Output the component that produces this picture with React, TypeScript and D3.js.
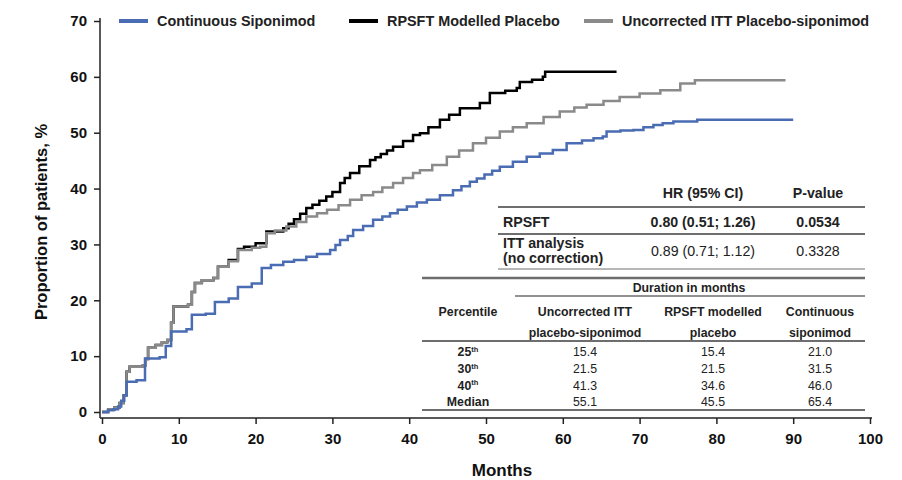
import React, { useEffect, useRef } from "react";
import * as d3 from "d3";

const width = 902;
const height = 480;

// cumulative proportion of patients (%) by month
const continuousSiponimod: [number, number][] = [
  [0, 0], [0.8, 0.3], [1.5, 0.5], [2.1, 1.0], [2.5, 2.0], [2.9, 3.0], [3.2, 5.4], [4.5, 5.7],
  [5.6, 9.6], [7.5, 9.8], [8.3, 11.8], [9.0, 14.4], [11.0, 14.8], [11.7, 17.4], [13.5, 17.6],
  [14.7, 19.7], [16.5, 20.3], [17.7, 22.4], [19.5, 23.0], [20.8, 25.8], [22.0, 26.3],
  [23.6, 26.9], [25.0, 27.2], [26.6, 27.8], [28.0, 28.3], [29.7, 29.0], [30.4, 29.9], [31.0, 30.8],
  [32.0, 31.5], [32.7, 32.6], [34.0, 33.3], [35.3, 34.4], [36.5, 35.0], [37.5, 35.6],
  [38.5, 36.2], [39.7, 36.8], [41.0, 37.5], [42.3, 38.0], [44.0, 38.8], [45.7, 39.7],
  [46.8, 40.4], [47.9, 41.2], [48.8, 41.8], [49.8, 42.5], [50.8, 43.2], [51.8, 43.9], [53.5, 44.8], [55.3, 45.7],
  [57.0, 46.3], [58.7, 46.9], [60.5, 48.1], [62.5, 48.6], [64.0, 49.0], [65.2, 49.3],
  [65.7, 50.2], [67.5, 50.4], [69.2, 50.5], [70.5, 51.0], [71.8, 51.4], [73.0, 51.7],
  [74.4, 52.0], [77.5, 52.3], [90, 52.3],
];

const rpsftPlacebo: [number, number][] = [
  [0, 0], [0.8, 0.4], [1.6, 0.8], [2.3, 1.6], [2.8, 3.0], [3.2, 7.2], [3.6, 8.1], [5.3, 8.3],
  [5.7, 9.5], [6.0, 11.5], [7.0, 12.0], [7.8, 12.5], [8.5, 12.9], [9.0, 16.0], [9.3, 18.9],
  [11.2, 19.2], [11.7, 21.5], [12.1, 23.1], [13.0, 23.6], [14.5, 24.0], [15.1, 26.0],
  [16.5, 27.2], [17.7, 29.2], [18.5, 29.6], [20.0, 30.2], [21.4, 32.3], [23.6, 32.9],
  [24.3, 33.7], [25.0, 34.5], [25.8, 35.5], [26.6, 36.5], [27.4, 37.1], [28.3, 37.8], [29.2, 38.6], [30.0, 39.4],
  [31.0, 41.0], [31.6, 41.9], [32.3, 42.8], [33.5, 44.0], [34.9, 45.1], [35.6, 45.6], [36.3, 46.2], [37.1, 46.8],
  [37.9, 47.5], [39.2, 48.5], [40.5, 49.6], [41.4, 49.9], [42.5, 51.0], [44.0, 52.3], [45.2, 53.2],
  [46.6, 54.4], [49.2, 55.3], [50.5, 57.1], [52.5, 57.5], [54.0, 58.0], [54.4, 59.1], [56.0, 59.5],
  [57.4, 60.0], [57.7, 60.9], [67, 60.9],
];

const ittPlaceboSiponimod: [number, number][] = [
  [0, 0], [0.8, 0.4], [1.6, 0.8], [2.3, 1.6], [2.8, 3.0], [3.2, 7.2], [3.6, 8.1], [5.3, 8.3],
  [5.7, 9.5], [6.0, 11.5], [7.0, 12.0], [7.8, 12.5], [8.5, 12.9], [9.0, 16.0], [9.3, 18.9],
  [11.2, 19.2], [11.7, 21.5], [12.1, 23.1], [13.0, 23.6], [14.5, 24.0], [15.1, 26.0],
  [16.5, 27.0], [17.7, 29.0], [19.5, 29.4], [20.6, 29.6], [21.4, 32.0], [22.5, 32.5],
  [24.0, 33.2], [25.3, 34.0], [26.6, 35.0], [28.0, 35.6], [29.3, 36.2], [30.8, 37.0],
  [32.3, 38.0], [33.8, 38.8], [35.3, 39.4], [36.5, 40.2], [37.9, 41.0], [39.2, 41.9],
  [40.5, 42.8], [41.4, 43.3], [43.0, 44.2], [44.9, 45.7], [46.5, 46.8], [48.3, 48.1],
  [50.0, 49.1], [51.8, 50.2], [53.5, 51.0], [55.3, 51.7], [57.5, 52.8], [59.6, 53.8],
  [61.5, 54.5], [63.1, 55.0], [65.3, 55.7], [67.4, 56.4], [70.0, 57.0], [72.7, 57.6],
  [75.3, 58.8], [77.2, 59.4], [89, 59.4],
];

const seriesNames = ["Continuous Siponimod", "RPSFT Modelled Placebo", "Uncorrected ITT Placebo-siponimod"];
const seriesColors = ["#4a6cb3", "#000000", "#8a8a8a"];

const xTicks = [0, 10, 20, 30, 40, 50, 60, 70, 80, 90, 100];
const yTicks = [0, 10, 20, 30, 40, 50, 60, 70];

// hazard ratio table
const hrHeader = ["HR (95% CI)", "P-value"];
const hrLabels = [["RPSFT"], ["ITT analysis", "(no correction)"]];
const hrValues = ["0.80 (0.51; 1.26)", "0.89 (0.71; 1.12)"];
const pValues = ["0.0534", "0.3328"];

// percentile table
const durationCols = [
  ["Uncorrected ITT", "placebo-siponimod"],
  ["RPSFT modelled", "placebo"],
  ["Continuous", "siponimod"],
];
const percentiles = ["25", "30", "40", "Median"];
const durationValues = [
  ["15.4", "15.4", "21.0"],
  ["21.5", "21.5", "31.5"],
  ["41.3", "34.6", "46.0"],
  ["55.1", "45.5", "65.4"],
];

const font = "'Liberation Sans', Arial, sans-serif";

export default function App() {
  const ref = useRef<SVGSVGElement>(null);

  useEffect(() => {
    const svg = d3.select(ref.current);
    svg.selectAll("*").remove();
    svg.attr("font-family", font);

    const x = d3.scaleLinear().domain([0, 100]).range([102, 870]);
    const y = d3.scaleLinear().domain([0, 70]).range([412, 21]);

    // axes
    const yAxis = svg
      .append("g")
      .attr("transform", "translate(100,0)")
      .call(d3.axisLeft(y).tickValues(yTicks).tickSize(6).tickPadding(7));
    yAxis.select(".domain").remove();
    yAxis.selectAll("line").attr("stroke", "#222").attr("stroke-width", 1.5);
    yAxis.selectAll("text").attr("font-size", 15).attr("font-weight", "bold").attr("fill", "#111").attr("font-family", font);

    const xAxis = svg
      .append("g")
      .attr("transform", "translate(0,418)")
      .call(d3.axisBottom(x).tickValues(xTicks).tickSize(6).tickPadding(9));
    xAxis.select(".domain").remove();
    xAxis.selectAll("line").attr("stroke", "#222").attr("stroke-width", 1.5);
    xAxis.selectAll("text").attr("font-size", 15).attr("font-weight", "bold").attr("fill", "#111").attr("font-family", font);

    svg.append("line").attr("x1", 100).attr("x2", 100).attr("y1", 18).attr("y2", 418).attr("stroke", "#222").attr("stroke-width", 1.5);
    svg.append("line").attr("x1", 100).attr("x2", 872).attr("y1", 418).attr("y2", 418).attr("stroke", "#222").attr("stroke-width", 1.5);

    svg.append("text").attr("x", 502).attr("y", 476).attr("text-anchor", "middle")
      .attr("font-size", 17).attr("font-weight", "bold").attr("fill", "#111").text("Months");
    svg.append("text").attr("transform", "translate(47,222) rotate(-90)").attr("text-anchor", "middle")
      .attr("font-size", 16.5).attr("font-weight", "bold").attr("fill", "#111").text("Proportion of patients, %");

    // curves
    const line = d3.line<[number, number]>()
      .x((d) => x(d[0]))
      .y((d) => y(d[1]))
      .curve(d3.curveStepAfter);

    const drawOrder = [
      { data: rpsftPlacebo, color: seriesColors[1] },
      { data: ittPlaceboSiponimod, color: seriesColors[2] },
      { data: continuousSiponimod, color: seriesColors[0] },
    ];
    drawOrder.forEach((s) => {
      svg.append("path").attr("d", line(s.data)).attr("fill", "none")
        .attr("stroke", s.color).attr("stroke-width", 2.5);
    });

    // legend
    const legendX = [119, 349, 584];
    seriesNames.forEach((name, i) => {
      svg.append("line").attr("x1", legendX[i]).attr("x2", legendX[i] + 29).attr("y1", 21).attr("y2", 21)
        .attr("stroke", seriesColors[i]).attr("stroke-width", 4);
      svg.append("text").attr("x", legendX[i] + 38).attr("y", 26).attr("font-size", 14.4)
        .attr("font-weight", "bold").attr("fill", "#222").text(name);
    });

    const rule = (x1: number, x2: number, yy: number, w: number) =>
      svg.append("line").attr("x1", x1).attr("x2", x2).attr("y1", yy).attr("y2", yy)
        .attr("stroke", "#6e6e6e").attr("stroke-width", w);

    // HR table
    const hrCol = 703;
    const pCol = 818;
    const fs = 14.2;
    const tbl = svg.append("g").attr("fill", "#222");
    tbl.append("text").attr("x", hrCol).attr("y", 198).attr("text-anchor", "middle").attr("font-size", fs).attr("font-weight", "bold").text(hrHeader[0]);
    tbl.append("text").attr("x", pCol).attr("y", 198).attr("text-anchor", "middle").attr("font-size", fs).attr("font-weight", "bold").text(hrHeader[1]);
    rule(498, 865, 207, 2);
    tbl.append("text").attr("x", 503).attr("y", 227).attr("font-size", fs).attr("font-weight", "bold").text(hrLabels[0][0]);
    tbl.append("text").attr("x", hrCol).attr("y", 227).attr("text-anchor", "middle").attr("font-size", fs).attr("font-weight", "bold").text(hrValues[0]);
    tbl.append("text").attr("x", pCol).attr("y", 227).attr("text-anchor", "middle").attr("font-size", fs).attr("font-weight", "bold").text(pValues[0]);
    rule(498, 865, 234, 2);
    tbl.append("text").attr("x", 503).attr("y", 248).attr("font-size", fs).attr("font-weight", "bold").text(hrLabels[1][0]);
    tbl.append("text").attr("x", 503).attr("y", 263).attr("font-size", fs).attr("font-weight", "bold").text(hrLabels[1][1]);
    tbl.append("text").attr("x", hrCol).attr("y", 256).attr("text-anchor", "middle").attr("font-size", fs).text(hrValues[1]);
    tbl.append("text").attr("x", pCol).attr("y", 256).attr("text-anchor", "middle").attr("font-size", fs).text(pValues[1]);
    rule(498, 865, 269, 1);
    rule(422, 865, 278, 2.5);

    // percentile table
    const colX = [585, 713, 820];
    const labelX = 468;
    const fs2 = 12.3;
    tbl.append("text").attr("x", 689).attr("y", 292).attr("text-anchor", "middle").attr("font-size", fs2).attr("font-weight", "bold").text("Duration in months");
    rule(515, 865, 296, 1.5);
    tbl.append("text").attr("x", labelX).attr("y", 316).attr("text-anchor", "middle").attr("font-size", fs2).attr("font-weight", "bold").text("Percentile");
    durationCols.forEach((c, i) => {
      tbl.append("text").attr("x", colX[i]).attr("y", 316).attr("text-anchor", "middle").attr("font-size", fs2).attr("font-weight", "bold").text(c[0]);
      tbl.append("text").attr("x", colX[i]).attr("y", 337).attr("text-anchor", "middle").attr("font-size", fs2).attr("font-weight", "bold").text(c[1]);
    });
    rule(422, 865, 341, 2);
    const rowY = [356, 373, 389.5, 406];
    percentiles.forEach((p, r) => {
      const t = tbl.append("text").attr("x", labelX).attr("y", rowY[r]).attr("text-anchor", "middle").attr("font-size", fs2).attr("font-weight", "bold");
      t.append("tspan").text(p);
      if (p !== "Median") {
        t.append("tspan").attr("font-size", 7.5).attr("dy", -4.5).text("th");
      }
      durationValues[r].forEach((v, i) => {
        tbl.append("text").attr("x", colX[i]).attr("y", rowY[r]).attr("text-anchor", "middle").attr("font-size", fs2).text(v);
      });
    });
    rule(422, 865, 410, 2);
  }, []);

  return (
    <svg
      ref={ref}
      width={width}
      height={height}
      style={{ position: "absolute", left: 0, top: 0, background: "#fff" }}
    />
  );
}
